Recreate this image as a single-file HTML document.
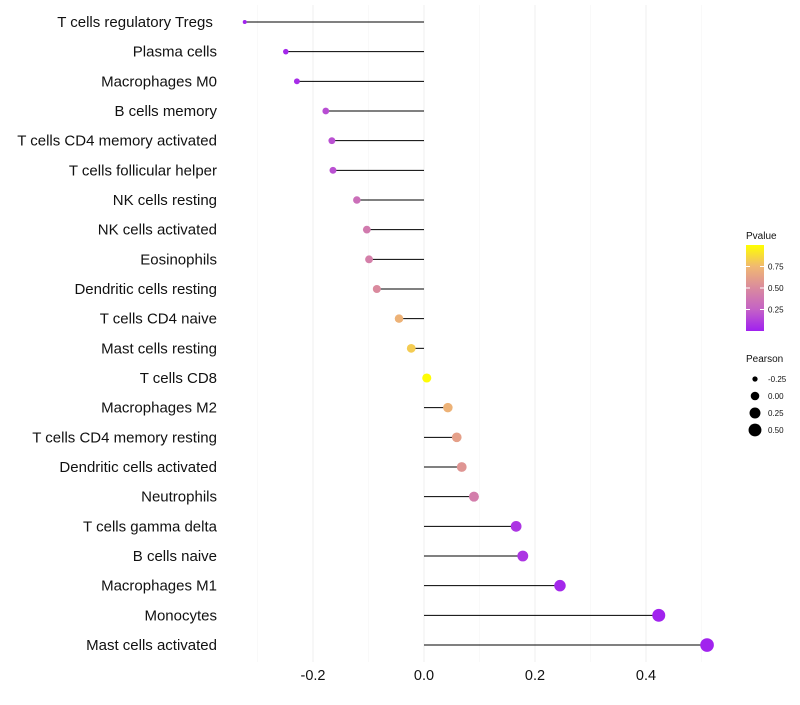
<!DOCTYPE html>
<html><head><meta charset="utf-8"><style>
body{margin:0;background:#fff;font-family:"Liberation Sans",sans-serif}
</style></head><body>
<svg id="chart" width="800" height="700" xmlns="http://www.w3.org/2000/svg"></svg>
<script>
const categories=["T cells regulatory  Tregs\u00a0","Plasma cells","Macrophages M0","B cells memory","T cells CD4 memory activated","T cells follicular helper","NK cells resting","NK cells activated","Eosinophils","Dendritic cells resting","T cells CD4 naive","Mast cells resting","T cells CD8","Macrophages M2","T cells CD4 memory resting","Dendritic cells activated","Neutrophils","T cells gamma delta","B cells naive","Macrophages M1","Monocytes","Mast cells activated"];
const pearson=[-0.323,-0.249,-0.229,-0.177,-0.166,-0.164,-0.121,-0.103,-0.099,-0.085,-0.045,-0.023,0.005,0.043,0.059,0.068,0.09,0.166,0.178,0.245,0.423,0.51];
const pvalue=[0.01,0.03,0.05,0.17,0.18,0.18,0.33,0.4,0.43,0.5,0.72,0.82,0.99,0.72,0.62,0.56,0.42,0.08,0.08,0.03,0.01,0.01];
const xTicks=[-0.2,0,0.2,0.4];
const xTickLabels=["-0.2","0.0","0.2","0.4"];
const xMinor=[-0.3,-0.1,0.1,0.3,0.5];
const sizeLegend=[-0.25,0,0.25,0.5];
const sizeLegendLabels=["-0.25","0.00","0.25","0.50"];
const pTicks=[0.25,0.5,0.75];
const pTickLabels=["0.25","0.50","0.75"];

const NS="http://www.w3.org/2000/svg";
const svg=document.getElementById('chart');
const x=v=>424+v*555;
const y=i=>22+i*(623/21);
const r=v=>Math.sqrt(Math.max(1,20.4+51*v));
const stops=[[0,[160,32,240]],[0.25,[196,98,198]],[0.5,[218,138,158]],[0.75,[240,184,114]],[1,[255,255,0]]];
function col(p){for(let k=1;k<stops.length;k++){if(p<=stops[k][0]){const a=stops[k-1],b=stops[k],t=(p-a[0])/(b[0]-a[0]);return 'rgb('+a[1].map((c,j)=>Math.round(c+(b[1][j]-c)*t)).join(',')+')';}}return 'rgb(255,255,0)';}
function el(t,a,parent){const e=document.createElementNS(NS,t);for(const k in a)e.setAttribute(k,a[k]);(parent||svg).appendChild(e);return e;}

const grid=el('g',{});


xTicks.concat(xMinor).forEach(v=>{const l=el('line',{x1:x(v),x2:x(v),y1:5,y2:662,stroke:xTicks.includes(v)?'#efefef':'#f5f5f5','stroke-width':xTicks.includes(v)?1:0.6},grid);

});

const xa=el('g',{});


xTicks.forEach((v,i)=>{const t=el('text',{x:x(v),y:680,'font-size':14.5,'text-anchor':'middle',fill:'#111'},xa);t.textContent=xTickLabels[i];

});

const ya=el('g',{});


categories.forEach((c,i)=>{const t=el('text',{x:217,y:y(i)+5,'font-size':15,'text-anchor':'end',fill:'#111'},ya);t.textContent=c;

});

const marks=el('g',{});


pearson.forEach((v,i)=>{
const l=el('line',{x1:x(0),x2:x(v),y1:y(i),y2:y(i),stroke:'#000','stroke-width':1},marks);


const c=el('circle',{cx:x(v),cy:y(i),r:r(v),fill:col(pvalue[i])},marks);


});

const lg=el('g',{});


const tt=el('text',{x:746,y:239,'font-size':10,fill:'#111'},lg);tt.textContent='Pvalue';
const defs=el('defs',{});
const grad=el('linearGradient',{id:'pg',x1:0,y1:1,x2:0,y2:0},defs);
stops.forEach(s=>el('stop',{offset:s[0],'stop-color':'rgb('+s[1].join(',')+')'},grad));
const bar=el('rect',{x:746,y:245,width:18,height:86,fill:'url(#pg)'},lg);


const py=p=>331-p*86;
pTicks.forEach((p,i)=>{el('line',{x1:746,x2:750,y1:py(p),y2:py(p),stroke:'#fff'},lg);el('line',{x1:760,x2:764,y1:py(p),y2:py(p),stroke:'#fff'},lg);
const t=el('text',{x:768,y:py(p)+3,'font-size':8,fill:'#111'},lg);t.textContent=pTickLabels[i];

});

const sl=el('g',{});


const st=el('text',{x:746,y:362,'font-size':10,fill:'#111'},sl);st.textContent='Pearson';
sizeLegend.forEach((v,i)=>{const cy=379+i*17;
const c=el('circle',{cx:755,cy:cy,r:r(v)*0.95,fill:'#000'},sl);


const t=el('text',{x:768,y:cy+3,'font-size':8,fill:'#111'},sl);t.textContent=sizeLegendLabels[i];});
</script>
</body></html>
